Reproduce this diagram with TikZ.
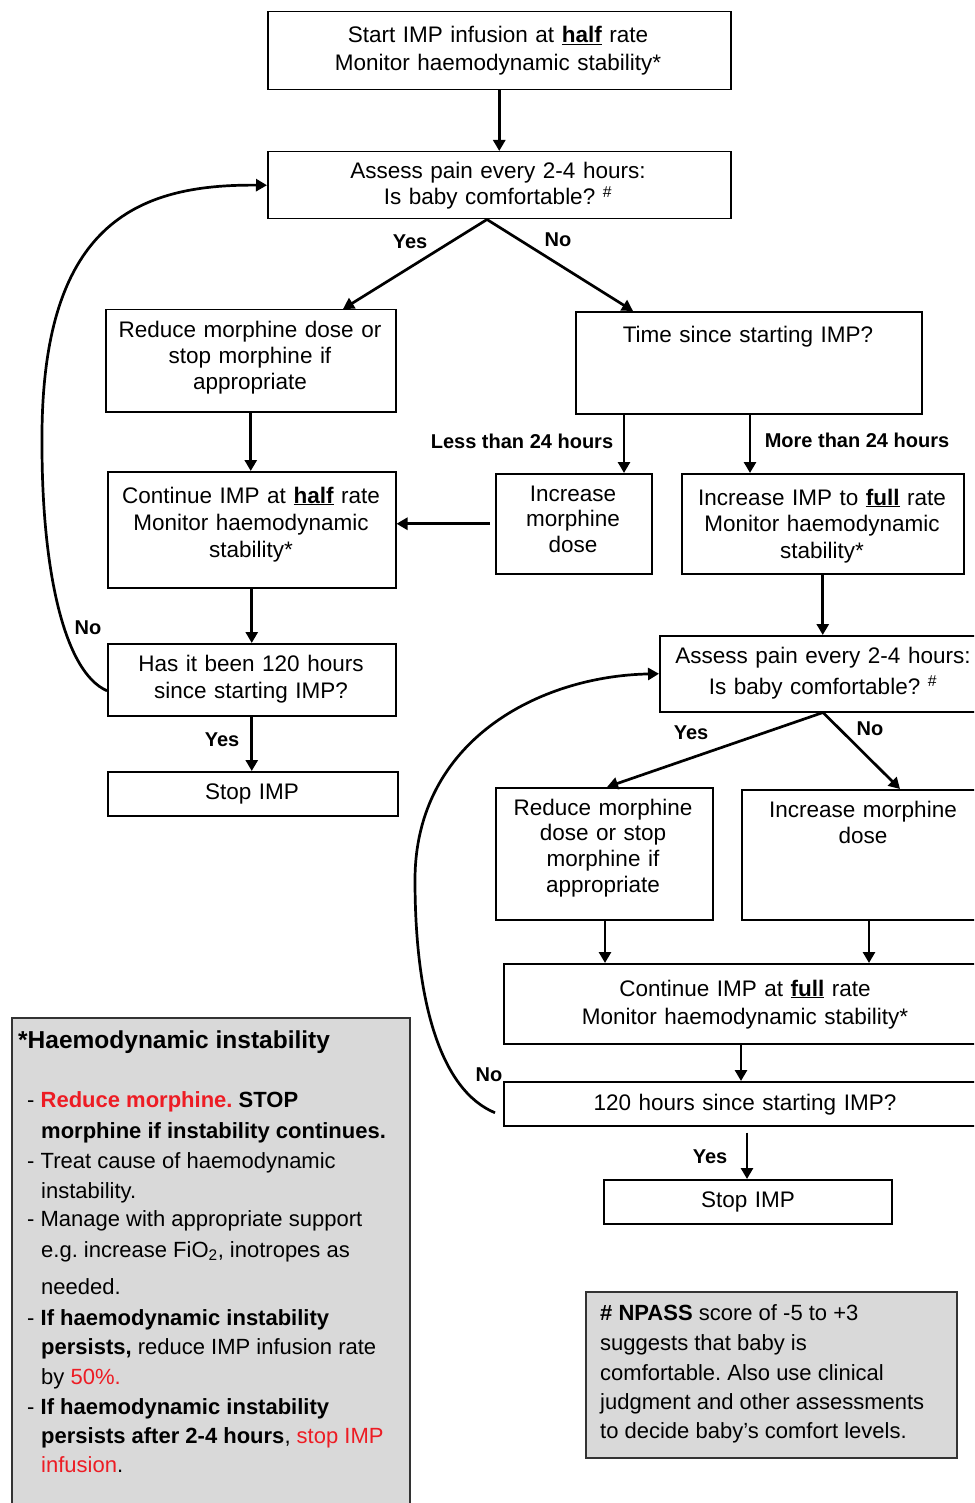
\documentclass[tikz,border=0pt]{standalone}
\usepackage{fontspec}
\setmainfont{Liberation Sans}
\usetikzlibrary{arrows.meta,calc}
\definecolor{redtxt}{RGB}{237,28,36}
\definecolor{graybox}{RGB}{217,217,217}
\frenchspacing
\newcommand{\fsz}[2]{\fontsize{#1}{#2}\selectfont}
\newcommand{\flowbox}[6][]{\node[box,#1,minimum width={#4pt-#2pt},minimum height={#5pt-#3pt}] (#6) at (#2,#3) {};}
\begin{document}
\begin{tikzpicture}[x=1pt,y=-1pt,
  box/.style={draw=black,line width=1.5pt,rectangle,inner sep=0pt,anchor=north west},
  txt/.style={anchor=base,align=center,inner sep=0pt,text width=#1},
  txt/.default=300pt,
  arr/.style={line width=2.7pt,-{Triangle[length=11pt,width=12pt]}},
  lbl/.style={font=\fsz{20}{24}\bfseries,inner sep=0pt},
  note/.style={anchor=base west,inner sep=0pt,font=\fsz{22}{26}},
]
\useasboundingbox (0,0) rectangle (974,1503);
\clip (0,0) rectangle (974,1503);

% ---------- boxes ----------
\flowbox{267}{11}{730}{89}{start}
\flowbox{267}{151}{730}{218}{assess1}
\flowbox{105}{309}{395}{411}{reduce1}
\flowbox{575}{311}{921}{413}{time}
\flowbox{495}{473}{651}{573}{incm}
\flowbox{107}{471}{395}{587}{conth}
\flowbox{681}{473}{963}{573}{incf}
\flowbox{107}{643}{395}{715}{has120}
\flowbox{107}{771}{397}{815}{stop1}
\flowbox{659}{635}{1000}{711}{assess2}
\flowbox{495}{787}{712}{919}{reduce2}
\flowbox{741}{789}{1000}{919}{incm2}
\flowbox{503}{963}{1000}{1043}{contf}
\flowbox{503}{1081}{1000}{1125}{hcheck}
\flowbox{603}{1179}{891}{1223}{stop2}
\flowbox[fill=graybox,draw=black!80]{11}{1017}{409}{1520}{haemo}
\flowbox[fill=graybox,draw=black!80]{585}{1291}{956}{1457}{npass}

% ---------- box texts ----------
\node[txt=450pt,font=\fsz{22.5}{28}] (tstart) at (498,43)
  {Start IMP infusion at \underline{\textbf{half}} rate\\Monitor haemodynamic stability*};
\node[txt=450pt,font=\fsz{22.5}{26}] (tassess1) at (498,179)
  {Assess pain every 2-4 hours:\\Is baby comfortable?~\textsuperscript{\#}};
\node[txt=285pt,font=\fsz{22.5}{26}] (treduce1) at (250,337)
  {Reduce morphine dose or\\stop morphine if\\appropriate};
\node[txt=330pt,font=\fsz{22.5}{26}] (ttime) at (748,342) {Time since starting IMP?};
\node[txt=150pt,font=\fsz{22.5}{25.5}] (tincm) at (573,501) {Increase\\morphine\\dose};
\node[txt=285pt,font=\fsz{22.5}{27}] (tconth) at (251,503)
  {Continue IMP at \underline{\textbf{half}} rate\\Monitor haemodynamic\\stability*};
\node[txt=280pt,font=\fsz{22.5}{26.5}] (tincf) at (822,505)
  {Increase IMP to \underline{\textbf{full}} rate\\Monitor haemodynamic\\stability*};
\node[txt=285pt,font=\fsz{22.5}{27}] (thas) at (251,671)
  {Has it been 120 hours\\since starting IMP?};
\node[txt=285pt,font=\fsz{22.5}{26}] (tstop1) at (252,799) {Stop IMP};
\node[txt=310pt,font=\fsz{22.5}{31}] (tassess2) at (823,663)
  {Assess pain every 2-4 hours:\\Is baby comfortable?~\textsuperscript{\#}};
\node[txt=210pt,font=\fsz{22.5}{25.7}] (treduce2) at (603,815)
  {Reduce morphine\\dose or stop\\morphine if\\appropriate};
\node[txt=220pt,font=\fsz{22.5}{26}] (tincm2) at (863,817) {Increase morphine\\dose};
\node[txt=400pt,font=\fsz{22.5}{28}] (tcontf) at (745,996)
  {Continue IMP at \underline{\textbf{full}} rate\\Monitor haemodynamic stability*};
\node[txt=400pt,font=\fsz{22.5}{26}] (thcheck) at (745,1110) {120 hours since starting IMP?};
\node[txt=280pt,font=\fsz{22.5}{26}] (tstop2) at (748,1207) {Stop IMP};

% ---------- connectors ----------
\draw[arr] (start.south) -- (assess1.north);
\draw[arr] (assess1.south -| 487,0) -- (reduce1.north -| 343,0);
\draw[arr] (assess1.south -| 487,0) -- (time.north -| 633,0);
\draw[arr] (time.south -| 624,0) -- (incm.north -| 624,0);
\draw[arr] (time.south -| 750,0) -- (incf.north -| 750,0);
\draw[arr] (reduce1.south) -- (reduce1.south |- conth.north);
\draw[arr] ([xshift=-5pt]incm.west) -- (conth.east |- incm.west);
\draw[arr] (conth.south) -- (conth.south |- has120.north);
\draw[arr] (has120.south) -- (has120.south |- stop1.north);
\draw[arr] ([yshift=-11pt]has120.west) .. controls (64,672) and (42,570) .. (42,445)
  .. controls (40,225) and (135,184) .. (assess1.west);
\draw[arr] (incf.south) -- (incf.south |- assess2.north);
\draw[arr] (assess2.south -| 823,0) -- (reduce2.north -| 607,0);
\draw[arr] (assess2.south -| 823,0) -- (incm2.north -| 900,0);
\draw[arr] (reduce2.south -| 605,0) -- (contf.north -| 605,0);
\draw[arr] (incm2.south -| 869,0) -- (contf.north -| 869,0);
\draw[arr] (contf.south -| 741,0) -- (hcheck.north -| 741,0);
\draw[arr] ($(hcheck.south -| 747,0)+(0,6)$) -- (stop2.north -| 747,0);
\draw[arr] ([xshift=-8pt,yshift=-9pt]hcheck.west) .. controls (440,1090) and (415,1000) .. (415,880)
  .. controls (415,740) and (540,676) .. (assess2.west);

% ---------- connector labels ----------
\node[lbl] (lyes1) at (410,242) {Yes};
\node[lbl] (lno1) at (558,240) {No};
\node[lbl] (lless) at (522,441) {Less than 24 hours};
\node[lbl] (lmore) at (857,440) {More than 24 hours};
\node[lbl] (lyes2) at (222,740) {Yes};
\node[lbl] (lno2) at (88,628) {No};
\node[lbl] (lyes3) at (691,733) {Yes};
\node[lbl] (lno3) at (870,729) {No};
\node[lbl] (lyes4) at (710,1157) {Yes};
\node[lbl] (lno4) at (489,1075) {No};

% ---------- haemodynamic note ----------
\node[note,font=\fsz{24.5}{28}\bfseries] (h0) at (18,1048) {*Haemodynamic instability};
\node[note] (h1) at (27,1107) {- {\color{redtxt}\bfseries Reduce morphine.} \textbf{STOP}};
\node[note] (h2) at (41,1138) {\textbf{morphine if instability continues.}};
\node[note] (h3) at (27,1168) {- Treat cause of haemodynamic};
\node[note] (h4) at (41,1198) {instability.};
\node[note] (h5) at (27,1226) {- Manage with appropriate support};
\node[note] (h6) at (41,1257) {e.g. increase FiO\textsubscript{2}, inotropes as};
\node[note] (h7) at (41,1294) {needed.};
\node[note] (h8) at (27,1325) {- \textbf{If haemodynamic instability}};
\node[note] (h9) at (41,1354) {\textbf{persists,} reduce IMP infusion rate};
\node[note] (h10) at (41,1384) {by {\color{redtxt}50\%.}};
\node[note] (h11) at (27,1414) {- \textbf{If haemodynamic instability}};
\node[note] (h12) at (41,1443) {\textbf{persists after 2-4 hours}, {\color{redtxt}stop IMP}};
\node[note] (h13) at (41,1472) {{\color{redtxt}infusion}.};

% ---------- NPASS note ----------
\node[note] (n1) at (600,1320) {\textbf{\# NPASS} score of -5 to +3};
\node[note] (n2) at (600,1350) {suggests that baby is};
\node[note] (n3) at (600,1380) {comfortable. Also use clinical};
\node[note] (n4) at (600,1409) {judgment and other assessments};
\node[note] (n5) at (600,1438) {to decide baby's comfort levels.};
\end{tikzpicture}
\end{document}
